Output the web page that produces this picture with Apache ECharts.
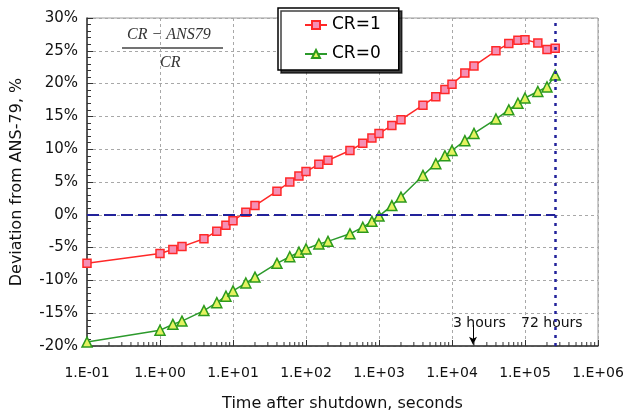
<!DOCTYPE html>
<html>
<head>
<meta charset="utf-8">
<script src="https://cdn.jsdelivr.net/npm/echarts@6/dist/echarts.min.js"></script>
<style>
  html, body { margin: 0; padding: 0; background: #fff; }
  #main { width: 640px; height: 417px; }
</style>
</head>
<body>
<div id="main"></div>
<script>
// time after shutdown, seconds (shared by both curves)
const times = [0.1, 1, 1.5, 2, 4, 6, 8, 10, 15, 20, 40, 60, 80, 100, 150, 200, 400, 600, 800,
  1000, 1500, 2000, 4000, 6000, 8000, 10000, 15000, 20000, 40000, 60000, 80000, 100000,
  150000, 200000, 259200];

// deviation from ANS-79, %
const cr1 = [-7.4, -5.9, -5.3, -4.85, -3.66, -2.5, -1.6, -0.9, 0.4, 1.4, 3.6, 5.0, 5.9, 6.6,
  7.7, 8.3, 9.8, 10.9, 11.7, 12.4, 13.6, 14.5, 16.7, 18.0, 19.1, 19.9, 21.6, 22.7, 25.0,
  26.1, 26.6, 26.7, 26.2, 25.2, 25.4];
const cr0 = [-19.4, -17.6, -16.7, -16.2, -14.6, -13.4, -12.4, -11.6, -10.4, -9.5, -7.4, -6.4,
  -5.7, -5.2, -4.45, -4.05, -2.9, -1.9, -1.0, -0.2, 1.4, 2.7, 6.0, 7.8, 9.0, 9.8, 11.3, 12.4,
  14.6, 16.0, 17.0, 17.8, 18.8, 19.5, 21.3];

const seriesNames = ['CR=1', 'CR=0'];
const endTime = 259200;      // 72 hours
const arrowTime = 19400;     // where the "3 hours" arrow is drawn
const xMin = 0.1, xMax = 1e6;
const yMin = -20, yMax = 30, yStep = 5;

// log minor ticks 2..9 in every decade
const minorTicks = [];
for (let e = -1; e < 6; e++) {
  for (let k = 2; k <= 9; k++) minorTicks.push(k * Math.pow(10, e));
}

const font = 'DejaVu Sans';

var myChart = echarts.init(document.getElementById('main'));

var option = {
  animation: false,
  backgroundColor: '#fff',
  grid: { left: 87, right: 42, top: 18, bottom: 61, show: true, borderColor: '#9a9a9a', borderWidth: 1 },
  legend: {
    data: seriesNames,
    orient: 'vertical',
    left: 278, top: 8,
    padding: [7, 18, 6, 26],
    itemWidth: 22, itemHeight: 10, itemGap: 9,
    backgroundColor: '#fff',
    borderColor: '#000', borderWidth: 1.5,
    shadowColor: 'rgba(0,0,0,0.75)', shadowOffsetX: 3, shadowOffsetY: 3, shadowBlur: 0,
    textStyle: { fontFamily: font, fontSize: 17, color: '#000', lineHeight: 20 }
  },
  xAxis: {
    type: 'log', logBase: 10, min: xMin, max: xMax, interval: 1,
    name: 'Time after shutdown, seconds', nameLocation: 'middle', nameGap: 50,
    nameTextStyle: { fontFamily: font, fontSize: 16, color: '#111' },
    axisLine: { onZero: false, lineStyle: { color: '#333', width: 1.5 } },
    axisTick: { inside: true, length: 6, lineStyle: { color: '#333' } },
    minorTick: { show: false },
    axisLabel: {
      margin: 20, fontFamily: font, fontSize: 14, color: '#111',
      formatter: v => {
        const e = Math.round(Math.log10(v));
        return '1.E' + (e < 0 ? '-' : '+') + String(Math.abs(e)).padStart(2, '0');
      }
    },
    splitLine: { show: true, lineStyle: { color: '#a8a8a8', type: [3, 3] } }
  },
  yAxis: {
    type: 'value', min: yMin, max: yMax, interval: yStep,
    name: 'Deviation from ANS-79, %', nameLocation: 'middle', nameGap: 62,
    nameTextStyle: { fontFamily: font, fontSize: 16, color: '#111' },
    axisLine: { show: true, onZero: false, lineStyle: { color: '#333', width: 1.5 } },
    axisTick: { show: true, inside: true, length: 6, lineStyle: { color: '#333' } },
    minorTick: { show: true, splitNumber: 5, length: 4, lineStyle: { color: '#333' } },
    axisLabel: { margin: 9, fontFamily: font, fontSize: 15, color: '#111', formatter: '{value}%' },
    splitLine: { show: true, lineStyle: { color: '#a8a8a8', type: [3, 3] } }
  },
  graphic: [
    { type: 'text', left: 127, top: 27, style: { text: 'CR − ANS79', font: 'italic 16px "Liberation Serif"', fill: '#333' } },
    { type: 'line', shape: { x1: 122, y1: 48, x2: 223, y2: 48 }, style: { stroke: '#444', lineWidth: 1.5 } },
    { type: 'text', left: 160, top: 55, style: { text: 'CR', font: 'italic 16px "Liberation Serif"', fill: '#333' } },
    { type: 'text', left: 453, top: 316, style: { text: '3 hours', font: '14px "DejaVu Sans"', fill: '#111' } },
    { type: 'text', left: 521, top: 316, style: { text: '72 hours', font: '14px "DejaVu Sans"', fill: '#111' } }
  ],
  series: [
    {
      name: 'CR=1', type: 'line',
      data: times.map((t, i) => [t, cr1[i]]),
      symbol: 'rect', symbolSize: 8,
      itemStyle: { color: '#f590b5', borderColor: '#ff2828', borderWidth: 1.5 },
      lineStyle: { color: '#ff2828', width: 1.5 },
      z: 4,
      markLine: {
        silent: true, symbol: 'none', label: { show: false },
        data: [
          [{ coord: [xMin, 0], lineStyle: { color: '#22229a', width: 2, type: [12, 5] } }, { coord: [endTime, 0] }],
          [{ coord: [endTime, yMin], lineStyle: { color: '#22229a', width: 2.5, type: [3, 5] } }, { coord: [endTime, yMax] }],
          [{ coord: [arrowTime, -16.8], symbol: 'none', lineStyle: { color: '#000', width: 1, type: 'solid' } },
           { coord: [arrowTime, -19.8], symbol: 'arrow', symbolSize: [6, 8] }]
        ]
      }
    },
    {
      name: 'CR=0', type: 'line',
      data: times.map((t, i) => [t, cr0[i]]),
      symbol: 'triangle', symbolSize: 10,
      itemStyle: { color: '#e4f260', borderColor: '#2c9a1c', borderWidth: 1.5 },
      lineStyle: { color: '#2c9a2c', width: 1.5 },
      z: 4
    },
    {
      // log minor ticks along the x axis
      type: 'custom', silent: true, z: 5,
      data: minorTicks.map(v => [v, yMin]),
      renderItem: (params, api) => {
        const p = api.coord([api.value(0), api.value(1)]);
        return { type: 'line', shape: { x1: p[0], y1: p[1], x2: p[0], y2: p[1] - 4 }, style: { stroke: '#333', lineWidth: 1 } };
      }
    }
  ]
};

myChart.setOption(option);
</script>
</body>
</html>
